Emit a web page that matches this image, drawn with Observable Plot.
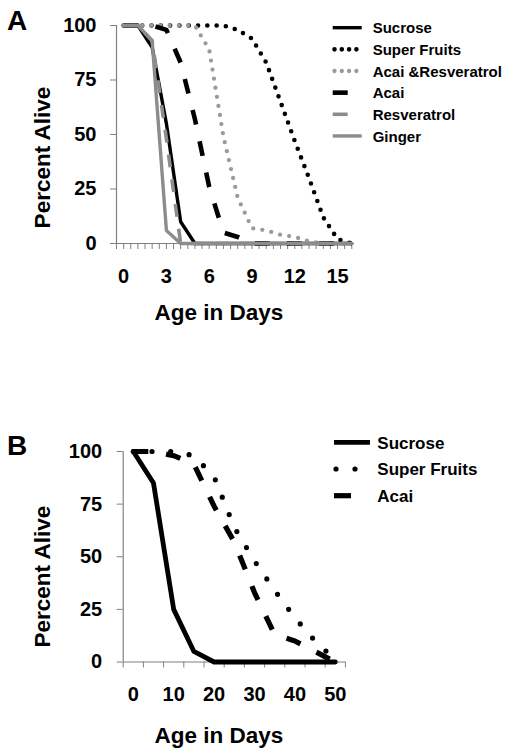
<!DOCTYPE html>
<html>
<head>
<meta charset="utf-8">
<script src="https://cdn.jsdelivr.net/npm/d3@7"></script>
<script src="https://cdn.jsdelivr.net/npm/@observablehq/plot@0.6"></script>
<style>
html, body { margin: 0; padding: 0; background: #fff; }
#page { position: relative; width: 512px; height: 755px; overflow: hidden; background: #fff; }
#page svg { position: absolute; left: 0; }
</style>
</head>
<body>
<div id="page"></div>
<script>
// ---------- Panel A data ----------
const daysA = [0, 1, 2, 3, 4, 5, 6, 7, 8, 9, 10, 11, 12, 13, 14, 15, 16];
const sucroseA          = [100, 100, 90, 55, 10, 0, 0, 0, 0, 0, 0, 0, 0, 0, 0, 0, 0];
const superFruitsA      = [100, 100, 100, 100, 100, 100, 100, 100, 98, 94, 83, 65, 47, 30, 12, 2, 0];
const acaiResveratrolA  = [100, 100, 100, 100, 100, 100, 89, 49, 21, 7, 6, 4, 3, 1, 0, 0, 0];
const acaiA             = [100, 100, 100, 98, 83, 57, 26, 5, 3, 0, 0, 0, 0, 0, 0, 0, 0];
const resveratrolA      = [100, 100, 93, 48, 0, 0, 0, 0, 0, 0, 0, 0, 0, 0, 0, 0, 0];
const gingerA           = [100, 100, 93, 6, 0, 0, 0, 0, 0, 0, 0, 0, 0, 0, 0, 0, 0];
const namesA = ["Sucrose", "Super Fruits", "Acai &Resveratrol", "Acai", "Resveratrol", "Ginger"];
const xLabelsA = [0, 3, 6, 9, 12, 15];

// ---------- Panel B data ----------
const daysB = [0, 5, 10, 15, 20, 25, 30, 35, 40, 45, 50];
const sucroseB     = [100, 85, 25, 5, 0, 0, 0, 0, 0, 0, 0];
const superFruitsB = [100, 100, 100, 98, 88, 64, 48, 34, 21, 10, 1];
const acaiB        = [100, 100, 98, 94, 74, 57, 33, 13, 10, 5, 0];
const namesB = ["Sucrose", "Super Fruits", "Acai"];
const xLabelsB = [0, 10, 20, 30, 40, 50];

const yTicks = [0, 25, 50, 75, 100];
const yLabel = "Percent Alive";
const xLabel = "Age in Days";

// ---------- styles ----------
const axisGray = "#808080";
const FONT = "'Liberation Sans', Arial, Helvetica, sans-serif";

const stylesA = [
  {stroke: "#000",    width: 3.4, cap: "round"},
  {stroke: "#000",    width: 4.6, dash: "0,9.3", cap: "round", legendDash: "0,7.3", lx1: 334.5, lx2: 357},
  {stroke: "#9a9a9a", width: 4.3, dash: "0,9.2", cap: "round", legendDash: "0,7.3", lx1: 334.5, lx2: 357},
  {stroke: "#000",    width: 4.6, dash: "15,17", cap: "butt", legendDash: "15,40"},
  {stroke: "#8c8c8c", width: 3.6, dash: "13,12", cap: "butt", legendDash: "15,40"},
  {stroke: "#8c8c8c", width: 3.4, cap: "round"}
];
const stylesB = [
  {stroke: "#000", width: 4.8, cap: "round"},
  {stroke: "#000", width: 5.2, dash: "0,18.7", cap: "round", legendDash: "0,19", lx1: 336, lx2: 356},
  {stroke: "#000", width: 5.2, dash: "15,18", cap: "butt", legendDash: "17,40"}
];

function panel(cfg) {
  const lineMarks = cfg.values.map((vals, i) => {
    const st = cfg.styles[i];
    const data = cfg.days.map((d, j) => ({day: d, value: vals[j]}));
    const opts = {x: "day", y: "value", stroke: st.stroke, strokeWidth: st.width,
      strokeLinecap: st.cap, strokeLinejoin: "round"};
    if (st.dash) opts.strokeDasharray = st.dash;
    return Plot.line(data, opts);
  });
  const svg = Plot.plot({
    width: 512,
    height: cfg.height,
    marginLeft: cfg.marginLeft,
    marginRight: cfg.marginRight,
    marginTop: cfg.marginTop,
    marginBottom: cfg.marginBottom,
    x: {domain: cfg.xDomain},
    y: {domain: [0, 100]},
    style: {fontFamily: FONT, fontSize: "20px", fontWeight: "bold", color: "#000", background: "transparent", overflow: "visible"},
    marks: [
      Plot.ruleY([0], {stroke: axisGray, strokeWidth: 1.2}),
      Plot.ruleX([cfg.xDomain[0]], {stroke: axisGray, strokeWidth: 1.2}),
      Plot.axisY({ticks: yTicks, tickSize: 6, tickPadding: cfg.yPad, stroke: axisGray, label: null}),
      Plot.axisX({ticks: cfg.minor, tickSize: 6, tickFormat: () => "", stroke: axisGray, label: null}),
      Plot.axisX({ticks: cfg.labels, tickSize: 0, tickPadding: 25, label: null}),
      ...lineMarks
    ]
  });
  svg.style.top = cfg.top + "px";
  const g = d3.select(svg).append("g").attr("font-family", FONT).attr("font-weight", "bold").attr("fill", "#000");
  g.append("text").attr("x", 7).attr("y", cfg.letterY).attr("text-anchor", "start")
    .attr("font-size", 28).text(cfg.letter);
  g.append("text").attr("transform", `translate(50,${cfg.yLabelY}) rotate(-90)`).attr("text-anchor", "middle")
    .attr("font-size", 22.5).text(yLabel);
  g.append("text").attr("x", 219).attr("y", cfg.xLabelY).attr("text-anchor", "middle")
    .attr("font-size", 22.5).text(xLabel);
  // legend
  const lg = g.append("g");
  cfg.names.forEach((name, i) => {
    const st = cfg.styles[i];
    const y = cfg.legY0 + i * cfg.legStep;
    const line = lg.append("line")
      .attr("x1", st.lx1 ?? cfg.legX1).attr("x2", st.lx2 ?? cfg.legX2)
      .attr("y1", y).attr("y2", y)
      .attr("stroke", st.stroke).attr("stroke-width", st.width)
      .attr("stroke-linecap", st.cap === "round" && !st.dash ? "butt" : st.cap);
    if (st.legendDash) line.attr("stroke-dasharray", st.legendDash);
    lg.append("text").attr("x", cfg.legTextX).attr("y", y + cfg.legFont * 0.37)
      .attr("text-anchor", "start").attr("font-size", cfg.legFont).text(name);
  });
  document.getElementById("page").appendChild(svg);
}

panel({
  top: 0, height: 340,
  marginLeft: 116, marginRight: 512 - (116 + 16.5 * 14.26), marginTop: 25, marginBottom: 97,
  xDomain: [-0.5, 16],
  minor: d3.range(-0.5, 16.01, 0.5),
  labels: xLabelsA,
  yPad: 14,
  days: daysA,
  values: [sucroseA, superFruitsA, acaiResveratrolA, acaiA, resveratrolA, gingerA],
  styles: stylesA,
  names: namesA,
  letter: "A", letterY: 30, yLabelY: 157.5, xLabelY: 320,
  legX1: 332.7, legX2: 361.7, legTextX: 372.7, legY0: 27.7, legStep: 21.65, legFont: 15
});

panel({
  top: 420, height: 335,
  marginLeft: 122.7, marginRight: 512 - (122.7 + 55 * 4.04), marginTop: 31, marginBottom: 93.5,
  xDomain: [-2.5, 52.5],
  minor: d3.range(-2.5, 52.51, 5),
  labels: xLabelsB,
  yPad: 15,
  days: daysB,
  values: [sucroseB, superFruitsB, acaiB],
  styles: stylesB,
  names: namesB,
  letter: "B", letterY: 35, yLabelY: 156.7, xLabelY: 322.7,
  legX1: 334, legX2: 370, legTextX: 377.3, legY0: 22.3, legStep: 26.7, legFont: 17
});
</script>
</body>
</html>
